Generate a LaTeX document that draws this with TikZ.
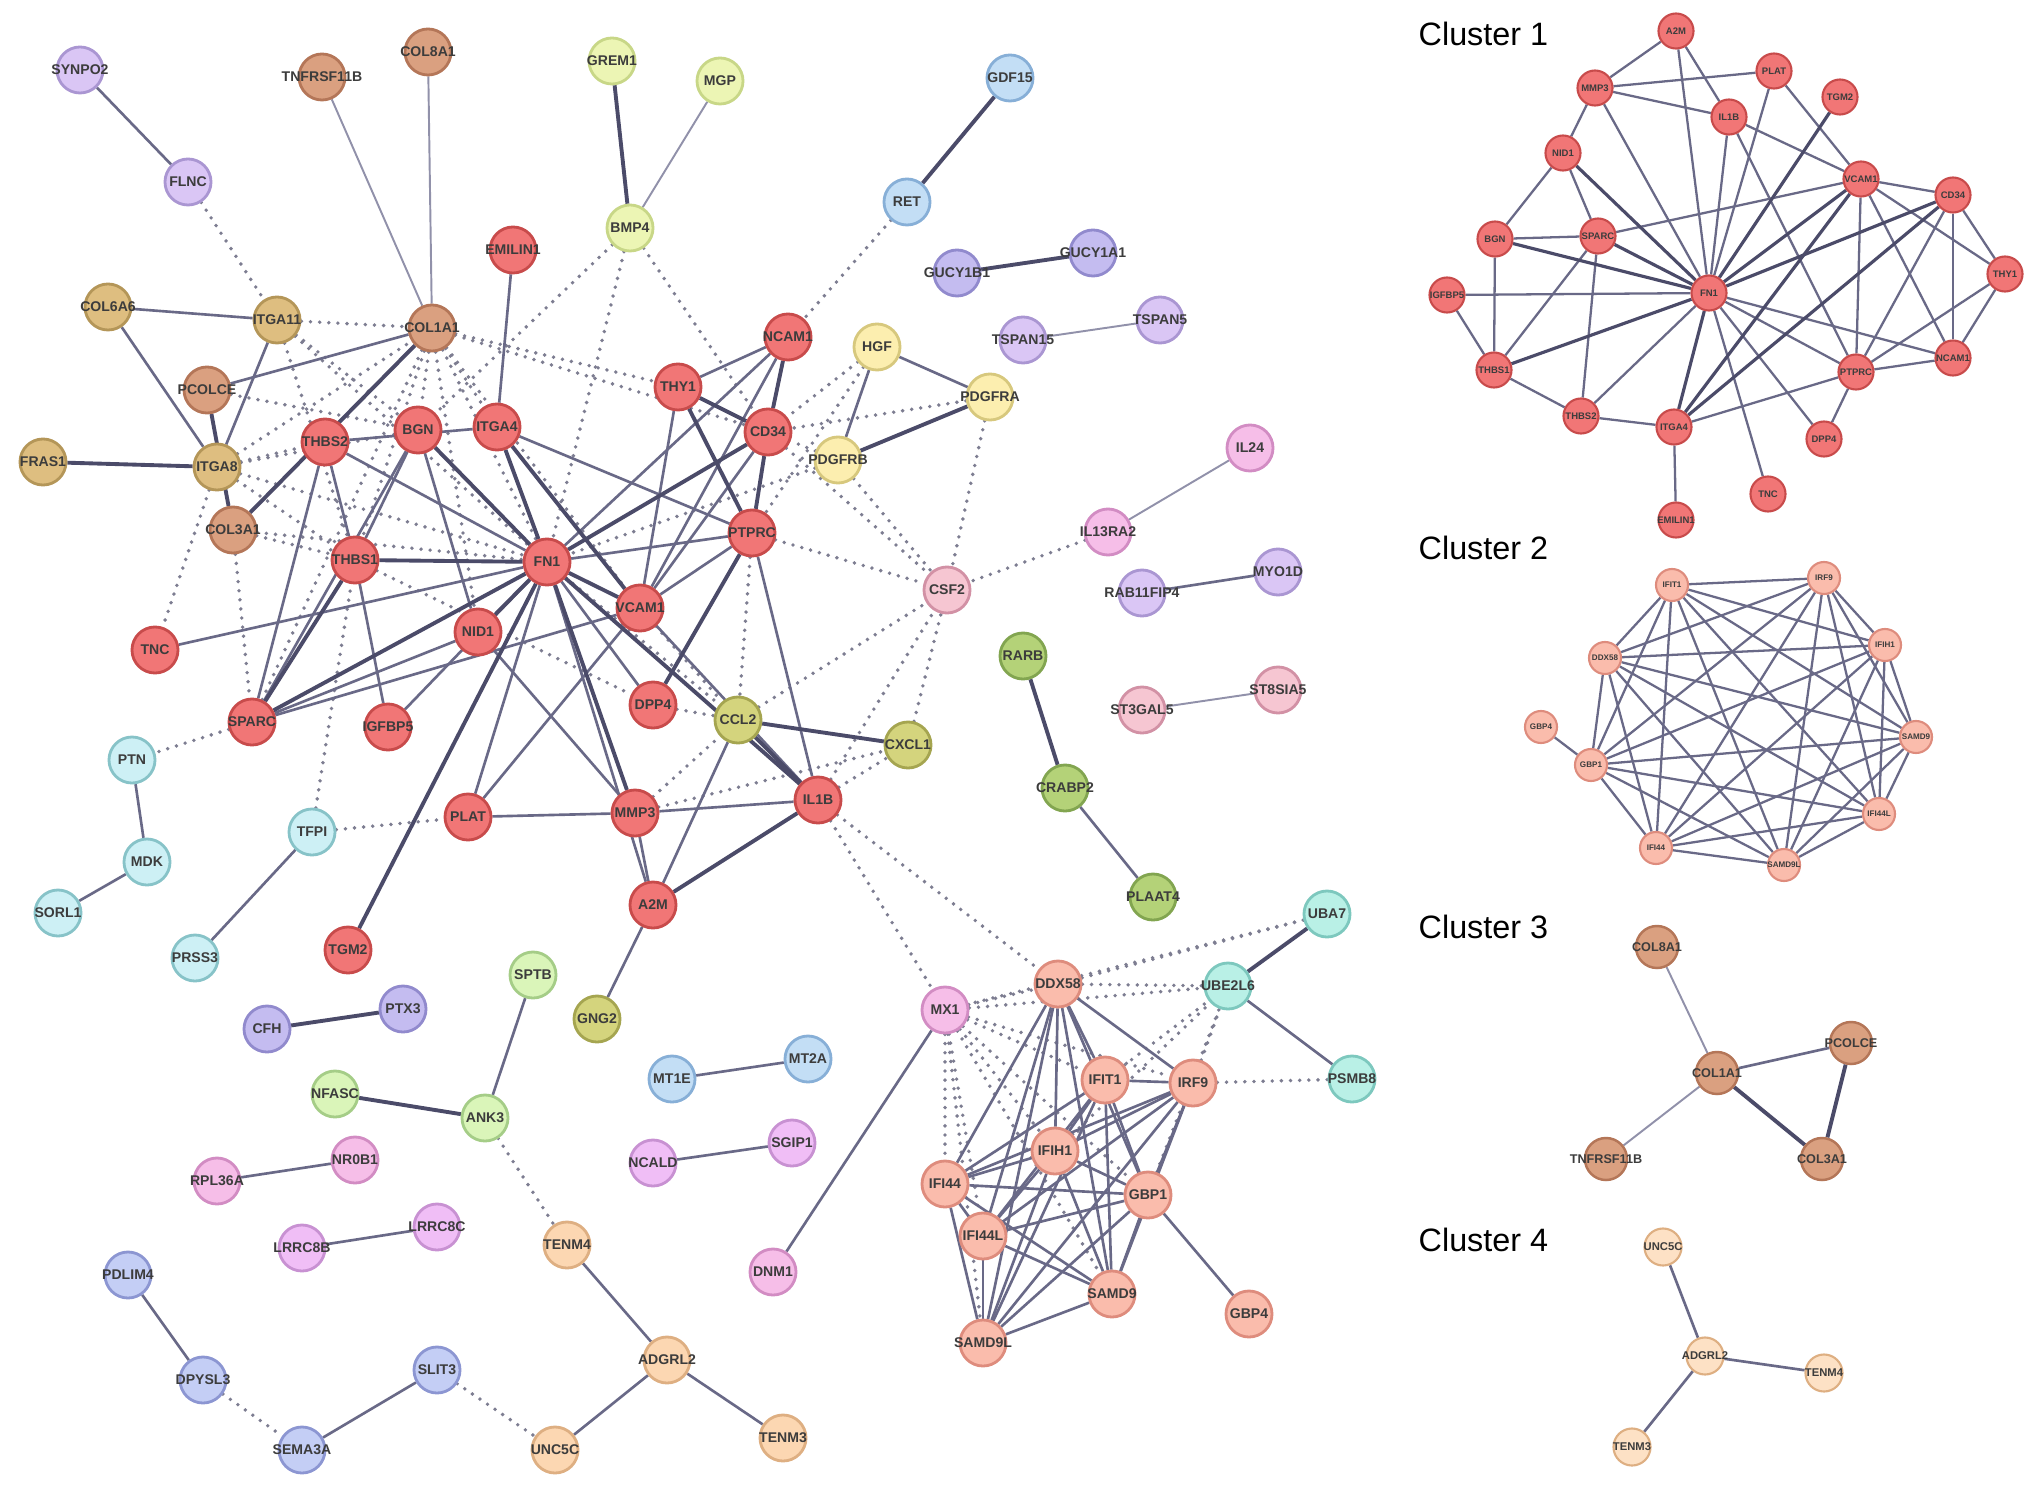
\documentclass[tikz,border=0pt]{standalone}
\usepackage{fontspec}
\setmainfont{Liberation Sans}
\usepackage{xcolor}
\usetikzlibrary{backgrounds}

\definecolor{genetext}{RGB}{60,60,60}
\definecolor{redfill}{RGB}{241,118,118}     \definecolor{redline}{RGB}{200,75,75}
\definecolor{salmonfill}{RGB}{250,188,172}  \definecolor{salmonline}{RGB}{222,140,125}
\definecolor{tanfill}{RGB}{218,160,128}     \definecolor{tanline}{RGB}{180,118,88}
\definecolor{sandfill}{RGB}{222,190,128}    \definecolor{sandline}{RGB}{180,150,88}
\definecolor{lavfill}{RGB}{218,198,245}     \definecolor{lavline}{RGB}{170,150,210}
\definecolor{violetfill}{RGB}{196,188,240}  \definecolor{violetline}{RGB}{145,138,205}
\definecolor{limefill}{RGB}{236,245,180}    \definecolor{limeline}{RGB}{200,215,135}
\definecolor{yellowfill}{RGB}{252,238,175}  \definecolor{yellowline}{RGB}{215,200,125}
\definecolor{skyfill}{RGB}{195,222,245}     \definecolor{skyline}{RGB}{135,175,215}
\definecolor{olivefill}{RGB}{212,212,125}   \definecolor{oliveline}{RGB}{165,165,80}
\definecolor{greenfill}{RGB}{180,210,120}   \definecolor{greenline}{RGB}{130,165,80}
\definecolor{mintfill}{RGB}{218,245,185}    \definecolor{mintline}{RGB}{165,205,135}
\definecolor{cyanfill}{RGB}{205,240,245}    \definecolor{cyanline}{RGB}{135,195,200}
\definecolor{aquafill}{RGB}{185,240,230}    \definecolor{aqualine}{RGB}{125,200,190}
\definecolor{rosefill}{RGB}{246,198,210}    \definecolor{roseline}{RGB}{210,145,165}
\definecolor{magfill}{RGB}{246,190,232}     \definecolor{magline}{RGB}{210,140,195}
\definecolor{orchidfill}{RGB}{240,190,246}  \definecolor{orchidline}{RGB}{200,145,210}
\definecolor{perifill}{RGB}{196,206,245}    \definecolor{periline}{RGB}{140,150,210}
\definecolor{peachfill}{RGB}{252,215,178}   \definecolor{peachline}{RGB}{222,175,130}
\definecolor{linkdark}{RGB}{75,75,105}
\definecolor{linkmid}{RGB}{105,105,135}
\definecolor{linklight}{RGB}{145,145,170}
\definecolor{dotgrey}{RGB}{125,125,145}

\tikzset{
    gene/.style={circle, line width=0.8pt, minimum size=0.46cm, inner sep=0pt,
        text=genetext, font=\fontsize{4}{4}\selectfont\bfseries},
    redgene/.style={gene, fill=redfill, draw=redline},
    salmongene/.style={gene, fill=salmonfill, draw=salmonline},
    tangene/.style={gene, fill=tanfill, draw=tanline},
    sandgene/.style={gene, fill=sandfill, draw=sandline},
    lavgene/.style={gene, fill=lavfill, draw=lavline},
    violetgene/.style={gene, fill=violetfill, draw=violetline},
    limegene/.style={gene, fill=limefill, draw=limeline},
    yellowgene/.style={gene, fill=yellowfill, draw=yellowline},
    skygene/.style={gene, fill=skyfill, draw=skyline},
    olivegene/.style={gene, fill=olivefill, draw=oliveline},
    greengene/.style={gene, fill=greenfill, draw=greenline},
    mintgene/.style={gene, fill=mintfill, draw=mintline},
    cyangene/.style={gene, fill=cyanfill, draw=cyanline},
    aquagene/.style={gene, fill=aquafill, draw=aqualine},
    rosegene/.style={gene, fill=rosefill, draw=roseline},
    maggene/.style={gene, fill=magfill, draw=magline},
    orchidgene/.style={gene, fill=orchidfill, draw=orchidline},
    perigene/.style={gene, fill=perifill, draw=periline},
    peachgene/.style={gene, fill=peachfill, draw=peachline},
    onemini/.style={redgene, minimum size=0.35cm, line width=0.6pt, font=\fontsize{2.7}{3}\selectfont\bfseries},
    twomini/.style={salmongene, minimum size=0.32cm, line width=0.6pt, font=\fontsize{2.3}{3}\selectfont\bfseries},
    threemini/.style={tangene, minimum size=0.42cm, line width=0.7pt, font=\fontsize{3.6}{4}\selectfont\bfseries},
    fourmini/.style={peachgene, fill=peachfill!75!white, minimum size=0.37cm, line width=0.6pt, font=\fontsize{3.2}{4}\selectfont\bfseries},
    stronglink/.style={line width=1.1pt, draw=linkdark},
    link/.style={line width=0.75pt, draw=linkmid},
    weaklink/.style={line width=0.55pt, draw=linklight},
    dotlink/.style={line width=1.1pt, draw=dotgrey, line cap=round, dash pattern=on 0pt off 2.6pt},
    clustertitle/.style={anchor=west, inner sep=0pt, font=\fontsize{9.2}{11}\selectfont, text=black},
}

\begin{document}
\begin{tikzpicture}[x=0.01cm, y=-0.01cm]
    \useasboundingbox (0,0) rectangle (2032,1491);

    % main network, one colour per module
    \foreach \n/\x/\y in {EMILIN1/513/250, NCAM1/788/337, THY1/678/387, THBS2/325/442, BGN/418/430,
        ITGA4/497/427, CD34/768/432, THBS1/355/560, FN1/547/562, PTPRC/752/533, VCAM1/640/608,
        NID1/478/632, TNC/155/650, DPP4/653/705, SPARC/252/722, IGFBP5/388/727, IL1B/818/800,
        MMP3/635/813, PLAT/468/817, A2M/653/905, TGM2/348/950}
        \node[redgene] (\n) at (\x,\y) {\makebox[0pt]{\n}};
    \foreach \n/\x/\y in {DDX58/1058/984, IFIT1/1105/1080, IRF9/1193/1083, IFIH1/1055/1151,
        GBP1/1148/1195, IFI44/945/1184, IFI44L/983/1236, SAMD9/1112/1294, GBP4/1249/1314, SAMD9L/983/1343}
        \node[salmongene] (\n) at (\x,\y) {\makebox[0pt]{\n}};
    \foreach \n/\x/\y in {TNFRSF11B/322/77, COL8A1/428/52, COL1A1/432/328, PCOLCE/207/390, COL3A1/233/530}
        \node[tangene] (\n) at (\x,\y) {\makebox[0pt]{\n}};
    \foreach \n/\x/\y in {COL6A6/108/307, ITGA11/277/320, FRAS1/43/462, ITGA8/217/467}
        \node[sandgene] (\n) at (\x,\y) {\makebox[0pt]{\n}};
    \foreach \n/\x/\y in {SYNPO2/80/70, FLNC/188/182, TSPAN15/1023/340, TSPAN5/1160/320,
        RAB11FIP4/1142/593, MYO1D/1278/572}
        \node[lavgene] (\n) at (\x,\y) {\makebox[0pt]{\n}};
    \foreach \n/\x/\y in {GUCY1B1/957/273, GUCY1A1/1093/253, CFH/267/1029, PTX3/403/1009}
        \node[violetgene] (\n) at (\x,\y) {\makebox[0pt]{\n}};
    \foreach \n/\x/\y in {GREM1/612/61, MGP/720/81, BMP4/630/228}
        \node[limegene] (\n) at (\x,\y) {\makebox[0pt]{\n}};
    \foreach \n/\x/\y in {HGF/877/347, PDGFRA/990/397, PDGFRB/838/460}
        \node[yellowgene] (\n) at (\x,\y) {\makebox[0pt]{\n}};
    \foreach \n/\x/\y in {GDF15/1010/78, RET/907/202, MT1E/672/1079, MT2A/808/1059}
        \node[skygene] (\n) at (\x,\y) {\makebox[0pt]{\n}};
    \foreach \n/\x/\y in {CCL2/738/720, CXCL1/908/745, GNG2/597/1019}
        \node[olivegene] (\n) at (\x,\y) {\makebox[0pt]{\n}};
    \foreach \n/\x/\y in {RARB/1023/656, CRABP2/1065/788, PLAAT4/1153/897}
        \node[greengene] (\n) at (\x,\y) {\makebox[0pt]{\n}};
    \foreach \n/\x/\y in {SPTB/533/975, NFASC/335/1094, ANK3/485/1118}
        \node[mintgene] (\n) at (\x,\y) {\makebox[0pt]{\n}};
    \foreach \n/\x/\y in {PTN/132/760, MDK/147/862, SORL1/58/913, TFPI/312/832, PRSS3/195/958}
        \node[cyangene] (\n) at (\x,\y) {\makebox[0pt]{\n}};
    \foreach \n/\x/\y in {UBA7/1327/914, UBE2L6/1228/986, PSMB8/1352/1079}
        \node[aquagene] (\n) at (\x,\y) {\makebox[0pt]{\n}};
    \foreach \n/\x/\y in {CSF2/947/590, ST3GAL5/1142/710, ST8SIA5/1278/690}
        \node[rosegene] (\n) at (\x,\y) {\makebox[0pt]{\n}};
    \foreach \n/\x/\y in {IL24/1250/448, IL13RA2/1108/532, MX1/945/1010, DNM1/773/1272,
        RPL36A/217/1181, NR0B1/355/1160}
        \node[maggene] (\n) at (\x,\y) {\makebox[0pt]{\n}};
    \foreach \n/\x/\y in {NCALD/653/1163, SGIP1/792/1143, LRRC8B/302/1248, LRRC8C/437/1227}
        \node[orchidgene] (\n) at (\x,\y) {\makebox[0pt]{\n}};
    \foreach \n/\x/\y in {PDLIM4/128/1275, DPYSL3/203/1380, SEMA3A/302/1450, SLIT3/437/1370}
        \node[perigene] (\n) at (\x,\y) {\makebox[0pt]{\n}};
    \foreach \n/\x/\y in {TENM4/567/1245, ADGRL2/667/1360, TENM3/783/1438, UNC5C/555/1450}
        \node[peachgene] (\n) at (\x,\y) {\makebox[0pt]{\n}};

    % cluster panels
    \node[clustertitle] (title1) at (1418,34) {Cluster 1};
    \node[clustertitle] (title2) at (1418,548) {Cluster 2};
    \node[clustertitle] (title3) at (1418,927) {Cluster 3};
    \node[clustertitle] (title4) at (1418,1240) {Cluster 4};
    \foreach \n/\x/\y in {A2M/1676/31, PLAT/1774/71, MMP3/1595/88, TGM2/1840/97, IL1B/1729/117,
        NID1/1563/153, VCAM1/1861/179, CD34/1953/195, BGN/1495/239, SPARC/1598/236, THY1/2005/274,
        IGFBP5/1447/295, FN1/1709/293, THBS1/1494/370, PTPRC/1856/372, NCAM1/1953/358,
        THBS2/1581/416, ITGA4/1674/427, DPP4/1824/439, TNC/1768/494, EMILIN1/1676/520}
        \node[onemini] (c1\n) at (\x,\y) {\makebox[0pt]{\n}};
    \foreach \n/\x/\y in {IFIT1/1672/585, IRF9/1824/578, IFIH1/1885/645, DDX58/1605/658,
        SAMD9/1916/737, GBP4/1541/727, GBP1/1591/765, IFI44L/1879/814, IFI44/1656/848, SAMD9L/1784/865}
        \node[twomini] (c2\n) at (\x,\y) {\makebox[0pt]{\n}};
    \foreach \n/\x/\y in {COL8A1/1657/947, PCOLCE/1851/1043, COL1A1/1717/1073,
        TNFRSF11B/1606/1159, COL3A1/1822/1159}
        \node[threemini] (c3\n) at (\x,\y) {\makebox[0pt]{\n}};
    \foreach \n/\x/\y in {UNC5C/1663/1247, ADGRL2/1705/1356, TENM4/1824/1373, TENM3/1632/1447}
        \node[fourmini] (c4\n) at (\x,\y) {\makebox[0pt]{\n}};

    \begin{scope}[on background layer]
        \fill[white] (0,0) rectangle (2032,1491);
        % dotted links
        \foreach \a/\b in {FLNC/ITGA11, ITGA11/COL1A1, ITGA11/BGN, ITGA11/THBS1, ITGA11/FN1,
            PCOLCE/BGN, ITGA8/COL1A1, ITGA8/THBS2, ITGA8/BGN, ITGA8/FN1, ITGA8/TNC, ITGA8/THBS1,
            COL1A1/BGN, COL1A1/ITGA4, COL1A1/FN1, COL1A1/THBS1, COL1A1/NID1, COL1A1/SPARC,
            COL1A1/THY1, COL1A1/CD34, COL1A1/VCAM1, COL3A1/THBS1, COL3A1/SPARC, COL3A1/FN1,
            BMP4/BGN, BMP4/FN1, BMP4/CD34, RET/NCAM1, HGF/CD34, HGF/PTPRC, PDGFRA/CD34,
            PDGFRA/CSF2, PDGFRB/CD34, PDGFRB/CSF2, PDGFRB/FN1, CD34/CSF2, PTPRC/CSF2, PTPRC/CCL2,
            CCL2/CSF2, CXCL1/CSF2, IL1B/CSF2, IL13RA2/CSF2, DPP4/CCL2, MMP3/CCL2, MMP3/CXCL1,
            IL1B/CXCL1, VCAM1/CCL2, FN1/CCL2, THBS1/DPP4, TFPI/THBS1, TFPI/PLAT, SPARC/PTN,
            IL1B/MX1, IL1B/DDX58, ANK3/TENM4, DPYSL3/SEMA3A, SLIT3/UNC5C, UBA7/DDX58, UBA7/MX1,
            DDX58/UBE2L6, MX1/UBE2L6, IFIT1/UBE2L6, IRF9/UBE2L6, IFIH1/UBE2L6, GBP1/UBE2L6,
            IRF9/PSMB8, MX1/DDX58, MX1/IFIT1, MX1/IRF9, MX1/IFIH1, MX1/IFI44, MX1/IFI44L,
            MX1/SAMD9L, MX1/GBP1, MX1/SAMD9, GBP1/IRF9}
            \draw[dotlink] (\a) -- (\b);
        % solid links
        \foreach \a/\b in {TNFRSF11B/COL1A1, COL8A1/COL1A1, MGP/BMP4, TSPAN15/TSPAN5,
            IL24/IL13RA2, ST3GAL5/ST8SIA5}
            \draw[weaklink] (\a) -- (\b);
        \foreach \a/\b in {SYNPO2/FLNC, COL6A6/ITGA11, COL6A6/ITGA8, ITGA11/ITGA8, PCOLCE/COL1A1,
            EMILIN1/ITGA4, NCAM1/THY1, NCAM1/VCAM1, NCAM1/FN1, THY1/VCAM1, HGF/PDGFRA, HGF/PDGFRB,
            PTN/MDK, MDK/SORL1, TFPI/PRSS3, SPTB/ANK3, RPL36A/NR0B1, LRRC8B/LRRC8C, PDLIM4/DPYSL3,
            SEMA3A/SLIT3, UNC5C/ADGRL2, ADGRL2/TENM4, ADGRL2/TENM3, MT1E/MT2A, NCALD/SGIP1,
            MX1/DNM1, A2M/GNG2, A2M/CCL2, A2M/MMP3, A2M/FN1, MMP3/IL1B, MMP3/PLAT, MMP3/NID1,
            PLAT/FN1, PLAT/VCAM1, IL1B/PTPRC, IL1B/VCAM1, TNC/FN1, IGFBP5/FN1, IGFBP5/THBS1,
            NID1/BGN, NID1/SPARC, BGN/THBS1, BGN/SPARC, THBS2/SPARC, THBS2/THBS1, THBS2/ITGA4,
            THBS2/FN1, VCAM1/CD34, VCAM1/PTPRC, VCAM1/SPARC, ITGA4/PTPRC, FN1/PTPRC, FN1/DPP4,
            CRABP2/PLAAT4, UBE2L6/PSMB8, GBP1/GBP4, RAB11FIP4/MYO1D}
            \draw[link] (\a) -- (\b);
        \foreach \a/\b in {GDF15/RET, GREM1/BMP4, GUCY1B1/GUCY1A1, FRAS1/ITGA8, RARB/CRABP2,
            CFH/PTX3, NFASC/ANK3, UBA7/UBE2L6, PDGFRA/PDGFRB, CCL2/CXCL1, CCL2/IL1B, THY1/CD34,
            NCAM1/CD34, CD34/PTPRC, THY1/PTPRC, COL3A1/COL1A1, PCOLCE/COL3A1, FN1/THBS1, FN1/ITGA4,
            FN1/VCAM1, FN1/BGN, FN1/SPARC, FN1/TGM2, FN1/MMP3, FN1/IL1B, FN1/CD34, ITGA4/VCAM1,
            A2M/IL1B, PTPRC/DPP4, SPARC/THBS1, NID1/FN1}
            \draw[stronglink] (\a) -- (\b);
        % interferon module, every pair linked (main network and cluster 2)
        \foreach \a [count=\i] in {DDX58,IFIT1,IRF9,IFIH1,GBP1,IFI44,IFI44L,SAMD9,SAMD9L}
            \foreach \b [count=\j] in {DDX58,IFIT1,IRF9,IFIH1,GBP1,IFI44,IFI44L,SAMD9,SAMD9L}
                {\ifnum\j>\i \draw[link] (\a) -- (\b); \draw[link, line width=0.65pt] (c2\a) -- (c2\b); \fi}
        \draw[link, line width=0.65pt] (c2GBP1) -- (c2GBP4);
        % cluster 1
        \foreach \a/\b in {A2M/MMP3, A2M/FN1, A2M/IL1B, MMP3/PLAT, MMP3/IL1B, MMP3/NID1, MMP3/FN1,
            PLAT/FN1, PLAT/VCAM1, IL1B/FN1, IL1B/VCAM1, IL1B/PTPRC, NID1/BGN, NID1/SPARC,
            BGN/SPARC, BGN/THBS1, SPARC/VCAM1, SPARC/THBS1, SPARC/THBS2, IGFBP5/FN1, IGFBP5/THBS1,
            THBS1/THBS2, THBS2/FN1, THBS2/ITGA4, ITGA4/PTPRC, ITGA4/EMILIN1, FN1/PTPRC, FN1/NCAM1,
            FN1/DPP4, FN1/TNC, VCAM1/CD34, VCAM1/PTPRC, VCAM1/NCAM1, VCAM1/THY1, CD34/THY1,
            CD34/NCAM1, CD34/PTPRC, THY1/NCAM1, THY1/PTPRC, PTPRC/NCAM1, PTPRC/DPP4}
            \draw[link, line width=0.65pt] (c1\a) -- (c1\b);
        \foreach \a/\b in {NID1/FN1, BGN/FN1, SPARC/FN1, THBS1/FN1, ITGA4/FN1, FN1/VCAM1,
            FN1/CD34, TGM2/FN1, ITGA4/VCAM1, ITGA4/CD34}
            \draw[stronglink, line width=0.9pt] (c1\a) -- (c1\b);
        % clusters 3 and 4
        \draw[weaklink] (c3COL8A1) -- (c3COL1A1);
        \draw[weaklink] (c3TNFRSF11B) -- (c3COL1A1);
        \draw[link] (c3PCOLCE) -- (c3COL1A1);
        \draw[stronglink] (c3COL1A1) -- (c3COL3A1);
        \draw[stronglink] (c3PCOLCE) -- (c3COL3A1);
        \foreach \b in {UNC5C, TENM4, TENM3}
            \draw[link] (c4ADGRL2) -- (c4\b);
    \end{scope}
\end{tikzpicture}
\end{document}
